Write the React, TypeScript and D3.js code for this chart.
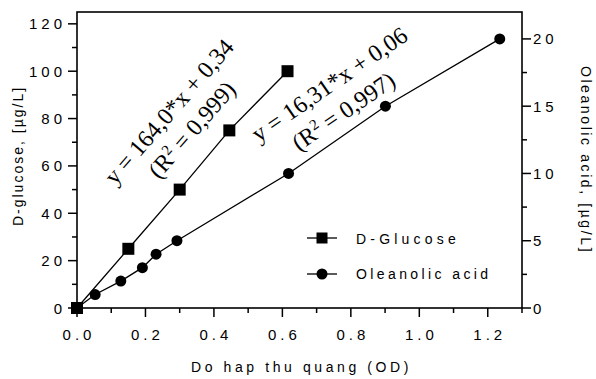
import React from "react";
import * as d3 from "d3";

const glucoseOD = [0, 0.15, 0.3, 0.445, 0.615];
const glucoseConc = [0, 25, 50, 75, 100];
const oleanolicOD = [0, 0.053, 0.128, 0.191, 0.231, 0.292, 0.618, 0.901, 1.235];
const oleanolicConc = [0, 1, 2, 3, 4, 5, 10, 15, 20];

const xMajor = [0, 0.2, 0.4, 0.6, 0.8, 1.0, 1.2];
const xMinor = [0.1, 0.3, 0.5, 0.7, 0.9, 1.1, 1.3];
const yLeftMajor = [0, 20, 40, 60, 80, 100, 120];
const yLeftMinor = [10, 30, 50, 70, 90, 110];
const yRightMajor = [0, 5, 10, 15, 20];
const yRightMinor = [2.5, 7.5, 12.5, 17.5];

const xTitle = "Do hap thu quang (OD)";
const yLeftTitle = "D-glucose, [µg/L]";
const yRightTitle = "Oleanolic acid, [µg/L]";
const legendLabels = ["D-Glucose", "Oleanolic acid"];
const eq1 = ["y = 164,0*x + 0,34", "0,999)"];
const eq2 = ["y = 16,31*x + 0,06", "0,997)"];

const W = 596, H = 379;
const L = 77, R = 522, T = 12, B = 308;
const sans = "'Liberation Sans', Arial, sans-serif";
const serif = "'Liberation Serif', 'Times New Roman', serif";

export default function App() {
  const x = d3.scaleLinear().domain([0, 1.3]).range([L, R]);
  const yL = d3.scaleLinear().domain([0, 125]).range([B, T]);
  const yR = d3.scaleLinear().domain([0, 22]).range([B, T]);

  const lineG = d3.line<number>().x((_, i) => x(glucoseOD[i])).y((d) => yL(d));
  const lineO = d3.line<number>().x((_, i) => x(oleanolicOD[i])).y((d) => yR(d));

  const tickLs = 4;
  const tickFs = 15;
  const sq = 12;

  const Eq = ({ lines, cx1, cy1, cx2, cy2, angle, fs }: any) => (
    <g fontFamily={serif} fontSize={fs} fill="#000">
      <text transform={`translate(${cx1},${cy1}) rotate(${angle})`} textAnchor="middle">
        {lines[0]}
      </text>
      <text transform={`translate(${cx2},${cy2}) rotate(${angle})`} textAnchor="middle">
        (R<tspan dy={-fs * 0.37} fontSize={fs * 0.62}>2</tspan>
        <tspan dy={fs * 0.37}> = {lines[1]}</tspan>
      </text>
    </g>
  );

  return (
    <svg width={W} height={H} style={{ position: "absolute", left: 0, top: 0, background: "#fff" }}>
      <rect x={0} y={0} width={W} height={H} fill="#fff" />
      <rect x={L} y={T} width={R - L} height={B - T} fill="none" stroke="#000" strokeWidth={1.6} />

      {xMajor.map((v) => (
        <line key={"xm" + v} x1={x(v)} x2={x(v)} y1={B} y2={B + 9} stroke="#000" strokeWidth={1.5} />
      ))}
      {xMinor.map((v) => (
        <line key={"xn" + v} x1={x(v)} x2={x(v)} y1={B} y2={B + 5} stroke="#000" strokeWidth={1.5} />
      ))}
      {xMajor.map((v) => (
        <text key={"xl" + v} x={x(v) + tickLs / 2} y={340} textAnchor="middle" fontFamily={sans}
          fontSize={tickFs} letterSpacing={tickLs}>{d3.format(".1f")(v)}</text>
      ))}

      {yLeftMajor.map((v) => (
        <line key={"lm" + v} x1={L - 9} x2={L} y1={yL(v)} y2={yL(v)} stroke="#000" strokeWidth={1.5} />
      ))}
      {yLeftMinor.map((v) => (
        <line key={"ln" + v} x1={L - 5} x2={L} y1={yL(v)} y2={yL(v)} stroke="#000" strokeWidth={1.5} />
      ))}
      {yLeftMajor.map((v) => (
        <text key={"ll" + v} x={62 + tickLs} y={yL(v) + 5.5} textAnchor="end" fontFamily={sans}
          fontSize={tickFs} letterSpacing={tickLs}>{v}</text>
      ))}

      {yRightMajor.map((v) => (
        <line key={"rm" + v} x1={R} x2={R + 9} y1={yR(v)} y2={yR(v)} stroke="#000" strokeWidth={1.5} />
      ))}
      {yRightMinor.map((v) => (
        <line key={"rn" + v} x1={R} x2={R + 5} y1={yR(v)} y2={yR(v)} stroke="#000" strokeWidth={1.5} />
      ))}
      {yRightMajor.map((v) => (
        <text key={"rl" + v} x={533} y={yR(v) + 5.5} textAnchor="start" fontFamily={sans}
          fontSize={tickFs} letterSpacing={tickLs}>{v}</text>
      ))}

      <text x={(L + R) / 2 + 2} y={372} textAnchor="middle" fontFamily={sans} fontSize={14}
        letterSpacing={3.6}>{xTitle}</text>
      <text transform={`translate(23,${(T + B) / 2 - 4}) rotate(-90)`} textAnchor="middle"
        fontFamily={sans} fontSize={14} letterSpacing={2}>{yLeftTitle}</text>
      <text transform={`translate(581,${(T + B) / 2}) rotate(90)`} textAnchor="middle"
        fontFamily={sans} fontSize={14} letterSpacing={2.6}>{yRightTitle}</text>

      <path d={lineG(glucoseConc) || ""} fill="none" stroke="#000" strokeWidth={1.3} />
      <path d={lineO(oleanolicConc) || ""} fill="none" stroke="#000" strokeWidth={1.3} />
      {oleanolicConc.map((v, i) => (
        <circle key={"o" + i} cx={x(oleanolicOD[i])} cy={yR(v)} r={5.5} fill="#000" />
      ))}
      {glucoseConc.map((v, i) => (
        <rect key={"g" + i} x={x(glucoseOD[i]) - sq / 2} y={yL(v) - sq / 2} width={sq} height={sq} fill="#000" />
      ))}

      <Eq lines={eq1} fs={24} cx1={175} cy1={117} cx2={198} cy2={135} angle={-49} />
      <Eq lines={eq2} fs={24} cx1={334} cy1={91} cx2={348} cy2={118} angle={-34.5} />

      <line x1={307} x2={337} y1={238} y2={238} stroke="#000" strokeWidth={1.3} />
      <rect x={322 - 5.5} y={238 - 5.5} width={11} height={11} fill="#000" />
      <line x1={307} x2={337} y1={274} y2={274} stroke="#000" strokeWidth={1.3} />
      <circle cx={322} cy={274} r={5.5} fill="#000" />
      <text x={356} y={244} fontFamily={sans} fontSize={14} letterSpacing={4.2}>{legendLabels[0]}</text>
      <text x={356} y={279} fontFamily={sans} fontSize={14} letterSpacing={3.4}>{legendLabels[1]}</text>
    </svg>
  );
}
